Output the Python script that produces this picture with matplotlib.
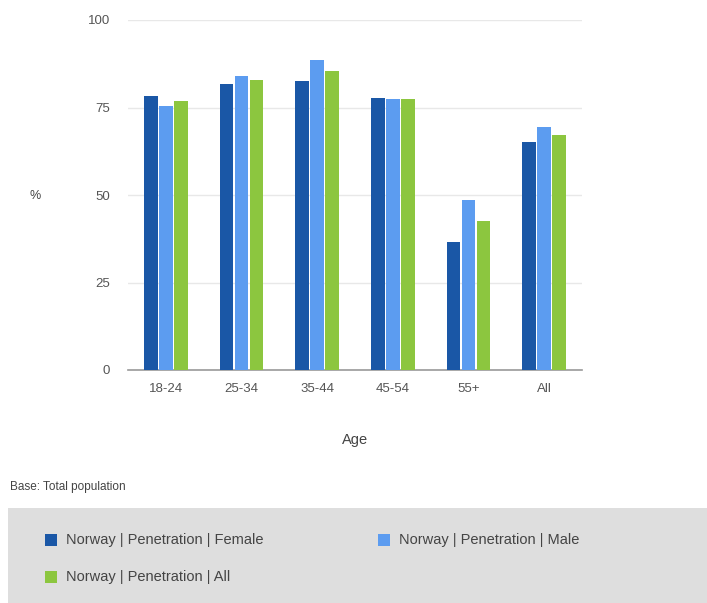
import matplotlib
matplotlib.use("Agg")
import matplotlib.pyplot as plt
import numpy as np
from matplotlib.patches import Rectangle

plt.rcParams['font.family'] = ['Liberation Sans', 'DejaVu Sans']

categories = ["18-24", "25-34", "35-44", "45-54", "55+", "All"]
female = [78.4, 81.7, 82.7, 77.8, 36.5, 65.2]
male = [75.4, 83.9, 88.6, 77.5, 48.6, 69.5]
all_ = [76.9, 83.0, 85.3, 77.5, 42.6, 67.1]
series_names = ["Norway | Penetration | Female", "Norway | Penetration | Male", "Norway | Penetration | All"]
colors = ["#1a57a6", "#5c9cf0", "#8cc63f"]
yticks = [0, 25, 50, 75, 100]

W, H = 707, 603
fig = plt.figure(figsize=(W/100, H/100), dpi=100)
ax = fig.add_axes([128/W, 1-370/H, (582-128)/W, 350/H])

x = np.arange(len(categories))
bw = 0.18
gap = 0.02
for i, (vals, c) in enumerate(zip([female, male, all_], colors)):
    ax.bar(x + (i-1)*(bw+gap), vals, width=bw, color=c, zorder=3)

ax.set_xlim(-0.5, len(categories)-0.5)
ax.set_ylim(0, 100)
ax.set_yticks(yticks)
ax.set_yticklabels([str(t) for t in yticks])
ax.set_xticks(x)
ax.set_xticklabels(categories)
ax.grid(axis='y', color='#e8e8e8', linewidth=1, zorder=0)
for s in ['top', 'right', 'left']:
    ax.spines[s].set_visible(False)
ax.spines['bottom'].set_color('#999999')
ax.spines['bottom'].set_linewidth(1.2)
ax.tick_params(axis='both', length=0, colors='#555555', labelsize=9.5)
ax.tick_params(axis='y', pad=13)
ax.tick_params(axis='x', pad=9)

fig.text(355/W, 1-440/H, "Age", fontsize=10.5, color='#444444', ha='center', va='center')
fig.text(35/W, 1-196/H, "%", fontsize=9, color='#444444', ha='center', va='center')

fig.text(10/W, 1-487/H, "Base: Total population", fontsize=8.5, color='#444444', va='center')

# legend box
fig.patches.append(Rectangle((8/W, 0), 1-8/W, (603-508)/H, transform=fig.transFigure,
                             facecolor='#dedede', edgecolor='none', zorder=0))
legend_pos = [(45, 540), (378, 540), (45, 577)]
for (lx, ly), name, c in zip(legend_pos, series_names, colors):
    fig.patches.append(Rectangle((lx/W, 1-(ly+6)/H), 12/W, 12/H, transform=fig.transFigure,
                                 facecolor=c, edgecolor='none', zorder=1))
    fig.text((lx+21)/W, 1-ly/H, name, fontsize=10.5, color='#444444', va='center')

fig.savefig("out.png", dpi=100)
